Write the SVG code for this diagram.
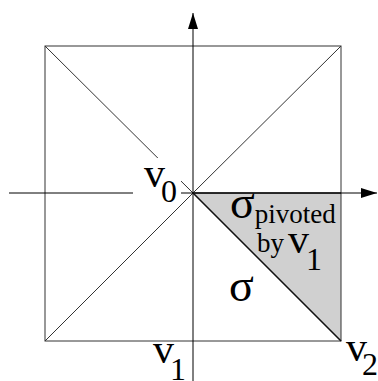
<svg xmlns="http://www.w3.org/2000/svg" width="378" height="381" viewBox="0 0 378 381">
<style>
.thin{stroke:#333;stroke-width:1;fill:none}
.axis{stroke:#000;stroke-width:1;fill:none}
.edge{stroke:#111;stroke-width:1.6;fill:none}
.lbl{font-family:"Liberation Serif","Times New Roman",serif;fill:#000}
.big{font-size:42px}
.sub{font-size:32px}
.sml{font-size:27px}
.sig{font-size:46px}
</style>
<defs>
<marker id="ah" viewBox="0 0 16 10" refX="16" refY="5" markerWidth="16" markerHeight="10" markerUnits="userSpaceOnUse" orient="auto">
<path d="M0,0 L16,5 L0,10 Z" fill="#000"/>
</marker>
</defs>
<g id="shaded-triangle">
<polygon points="193,193 341,193 341,341" fill="#d0d0d0" stroke="none"/>
</g>
<g id="square">
<rect x="45" y="46" width="296" height="295" class="thin"/>
</g>
<g id="connectors">
<line x1="45" y1="46" x2="193" y2="193" class="thin"/>
<line x1="45" y1="341" x2="193" y2="193" class="thin"/>
<line x1="193" y1="193" x2="341" y2="46" class="thin"/>
<line x1="193" y1="193" x2="341" y2="341" class="edge"/>
<line x1="193" y1="381" x2="193" y2="13" class="axis" marker-end="url(#ah)"/>
<line x1="9" y1="193" x2="377" y2="193" class="axis" marker-end="url(#ah)"/>
<line x1="193" y1="193" x2="341" y2="193" class="edge"/>
</g>
<g id="v0">
<rect x="133" y="158" width="48" height="44" fill="#fff"/>
<text class="lbl" x="144" y="187"><tspan class="big">v</tspan><tspan class="sub" dx="-4" dy="15">0</tspan></text>
</g>
<g id="v1">
<text class="lbl" x="153" y="363"><tspan class="big">v</tspan><tspan class="sub" dx="-4" dy="17">1</tspan></text>
</g>
<g id="v2">
<text class="lbl" x="346" y="361"><tspan class="big">v</tspan><tspan class="sub" dx="-5" dy="14">2</tspan></text>
</g>
<g id="sigma-pivoted">
<text class="lbl" x="230" y="218"><tspan class="sig">σ</tspan><tspan class="sml" dy="5">pivoted</tspan></text>
<text class="lbl sml" x="257" y="252">by</text>
<text class="lbl" x="288" y="253"><tspan class="big">v</tspan><tspan class="sub" dx="-3" dy="17">1</tspan></text>
</g>
<g id="sigma">
<text class="lbl sig" x="229" y="301">σ</text>
</g>
</svg>
